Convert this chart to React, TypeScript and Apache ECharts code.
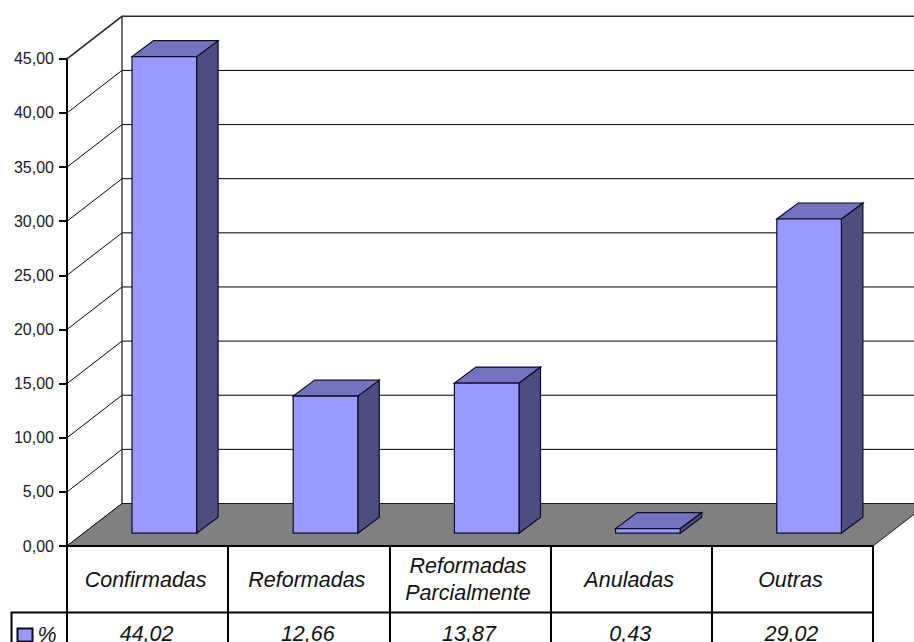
import React, { useEffect, useRef } from "react";
import * as echarts from "echarts";

const categories = ["Confirmadas", "Reformadas", "Reformadas\nParcialmente", "Anuladas", "Outras"];
const percentages = [44.02, 12.66, 13.87, 0.43, 29.02];
const wallTicks = [0, 5, 10, 15, 20, 25, 30, 35, 40, 45];
const seriesName = "%";

const INK = "#000000";
const FACE = "#9999ff";
const SIDE = "#4d4d80";
const TOP = "#7373bf";
const FLOOR = "#808080";
const BAR_EDGE = "#0c0c22";

// Oblique projection of the box: how far the back wall sits from the front plane.
const WALL_DX = 55;
const WALL_DY = 42.5;
// Each bar stands on the floor, set back from the front edge.
const BASE_DY = 12.8;
const BAR_LEFT = -15.6;
const BAR_RIGHT = 49;
const BAR_DX = 21.5;
const BAR_DY = 16;

const decimal = (v: number) => v.toFixed(2).replace(".", ",");

const renderWall = (_: any, api: any) => {
  const v = api.value(0);
  const [cx, y] = api.coord([0, v]);
  const [cx2] = api.coord([categories.length - 1, v]);
  const half = api.size([1, 0])[0] / 2;
  const left = cx - half;
  const right = cx2 + half;
  const top = v === 45;
  return {
    type: "polyline",
    silent: true,
    shape: {
      points: [
        [left, y],
        [left + WALL_DX, y - WALL_DY],
        [right + WALL_DX, y - WALL_DY],
      ],
    },
    style: { stroke: top ? "#2a2a2a" : INK, lineWidth: top ? 1.6 : 1, fill: "none" },
  };
};

const renderFloor = (_: any, api: any) => {
  const [cx, y] = api.coord([0, 0]);
  const [cx2] = api.coord([categories.length - 1, 0]);
  const [, yTop] = api.coord([0, 45]);
  const half = api.size([1, 0])[0] / 2;
  const left = cx - half;
  const right = cx2 + half;
  return {
    type: "group",
    silent: true,
    children: [
      {
        type: "polygon",
        shape: {
          points: [
            [left, y],
            [left + WALL_DX, y - WALL_DY],
            [right + WALL_DX, y - WALL_DY],
            [right, y],
          ],
        },
        style: { fill: FLOOR, stroke: "#1a1a1a", lineWidth: 1 },
      },
      {
        type: "line",
        shape: { x1: left + WALL_DX, y1: y - WALL_DY, x2: left + WALL_DX, y2: yTop - WALL_DY },
        style: { stroke: "#333333", lineWidth: 1.4 },
      },
    ],
  };
};

const renderBar = (_: any, api: any) => {
  const [cx, y0] = api.coord([api.value(0), 0]);
  const [, yv] = api.coord([api.value(0), api.value(1)]);
  const xl = cx + BAR_LEFT;
  const xr = cx + BAR_RIGHT;
  const yb = y0 - BASE_DY;
  const yt = yv - BASE_DY;
  const edge = { stroke: BAR_EDGE, lineWidth: 1.2 };
  return {
    type: "group",
    silent: true,
    children: [
      {
        type: "polygon",
        shape: { points: [[xr, yb], [xr + BAR_DX, yb - BAR_DY], [xr + BAR_DX, yt - BAR_DY], [xr, yt]] },
        style: { fill: SIDE, ...edge },
      },
      {
        type: "polygon",
        shape: { points: [[xl, yt], [xr, yt], [xr + BAR_DX, yt - BAR_DY], [xl + BAR_DX, yt - BAR_DY]] },
        style: { fill: TOP, ...edge },
      },
      {
        type: "polygon",
        shape: { points: [[xl, yb], [xr, yb], [xr, yt], [xl, yt]] },
        style: { fill: FACE, ...edge },
      },
    ],
  };
};

export default function App() {
  const ref = useRef<HTMLDivElement>(null);

  useEffect(() => {
    const chart = echarts.init(ref.current!, null, { renderer: "svg" });
    const font = "'Liberation Sans', Arial, sans-serif";
    const tableText = {
      interval: 0,
      color: "#111111",
      fontFamily: font,
      fontSize: 21.5,
      fontStyle: "italic" as const,
      verticalAlign: "middle" as const,
      lineHeight: 27,
    };
    chart.setOption({
      animation: false,
      backgroundColor: "#ffffff",
      grid: { left: 67, top: 58.8, width: 806, height: 487.2, outerBoundsMode: "none" },
      legend: {
        data: [{ name: seriesName, icon: "rect" }],
        left: 16.5,
        top: 624,
        padding: 0,
        itemWidth: 15,
        itemHeight: 13,
        itemGap: 0,
        selectedMode: false,
        textStyle: { fontFamily: font, fontSize: 21.5, fontStyle: "italic", color: "#111111", padding: [0, 1, 0, 0] },
      },
      xAxis: [
        {
          type: "category",
          data: categories,
          z: 5,
          axisLine: { show: true, lineStyle: { color: INK, width: 2 } },
          axisTick: { show: true, length: 97, lineStyle: { color: INK, width: 2 } },
          axisLabel: { ...tableText, margin: 33.5, padding: [0, 4, 0, 0] },
        },
        {
          type: "category",
          position: "bottom",
          data: percentages.map(decimal),
          z: 5,
          axisLine: { show: false },
          axisTick: { show: false },
          axisLabel: { ...tableText, margin: 88, padding: [0, 2, 0, 0] },
        },
      ],
      yAxis: {
        type: "value",
        min: 0,
        max: 45,
        interval: 5,
        z: 5,
        axisLine: { show: true, lineStyle: { color: INK, width: 2 } },
        axisTick: { show: true, length: 8, lineStyle: { color: INK, width: 2 } },
        axisLabel: {
          margin: 13,
          color: "#1a1a1a",
          fontFamily: font,
          fontSize: 16,
          formatter: (v: number) => decimal(v),
        },
        splitLine: { show: false },
      },
      graphic: [
        {
          type: "polyline",
          silent: true,
          z: 10,
          shape: { points: [[11.5, 642], [11.5, 612.5], [873, 612.5]] },
          style: { stroke: INK, lineWidth: 2, fill: "none" },
        },
      ],
      series: [
        {
          type: "custom",
          name: "wall",
          renderItem: renderWall,
          data: wallTicks.map((v) => [v]),
          encode: { y: 0 },
          z: 1,
        },
        {
          type: "custom",
          name: "floor",
          renderItem: renderFloor,
          data: [[0]],
          encode: { y: 0 },
          z: 2,
        },
        {
          type: "custom",
          name: seriesName,
          renderItem: renderBar,
          data: percentages.map((v, i) => [i, v]),
          encode: { x: 0, y: 1 },
          itemStyle: { color: FACE, borderColor: BAR_EDGE, borderWidth: 1 },
          z: 3,
        },
      ],
    });
    return () => chart.dispose();
  }, []);

  return <div ref={ref} style={{ position: "absolute", left: 0, top: 0, width: 914, height: 642, overflow: "hidden" }} />;
}
